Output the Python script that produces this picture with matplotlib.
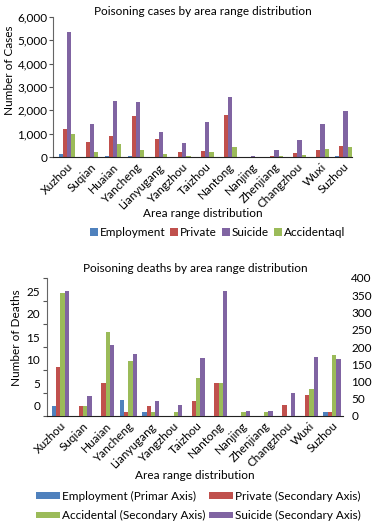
import matplotlib
matplotlib.use("Agg")
import matplotlib.pyplot as plt
import matplotlib.transforms as mtransforms
from matplotlib.ticker import FuncFormatter
import numpy as np

plt.rcParams['font.family'] = ['Lato', 'DejaVu Sans']

areas = ["Xuzhou", "Suqian", "Huaian", "Yancheng", "Lianyugang", "Yangzhou",
         "Taizhou", "Nantong", "Nanjing", "Zhenjiang", "Changzhou", "Wuxi", "Suzhou"]

# Poisoning cases
cases_employment = [150, 20, 50, 60, 20, 10, 20, 20, 10, 10, 10, 20, 60]
cases_private = [1215, 630, 886, 1745, 785, 200, 243, 1815, 20, 50, 157, 286, 486]
cases_suicide = [5370, 1430, 2415, 2345, 1057, 586, 1487, 2560, 60, 315, 714, 1430, 1987]
cases_accidental = [1000, 200, 570, 315, 143, 50, 200, 414, 20, 60, 100, 357, 414]

# Poisoning deaths
deaths_employment = [2.2, 0, 0, 3.5, 0.9, 0, 0, 0, 0, 0, 0, 0, 0.9]  # primary axis
deaths_private = [143, 30, 97, 12.5, 30, 0, 44, 97, 0, 0, 32, 61, 12.5]
deaths_accidental = [357, 30, 244, 160, 12.5, 12.5, 111, 97, 12.5, 12.5, 0, 79, 177]
deaths_suicide = [363, 58, 206, 180, 44, 32, 169, 363, 15, 15, 68, 172, 164]

C_BLUE = "#4F81BD"
C_RED = "#C0504D"
C_PURPLE = "#8064A2"
C_GREEN = "#9BBB59"

W, H = 379, 529
fig = plt.figure(figsize=(W / 100, H / 100), dpi=100)

def px_axes(x0, y0, x1, y1):
    return fig.add_axes([x0 / W, (H - y1) / H, (x1 - x0) / W, (y1 - y0) / H])

FS = 8.5
x = np.arange(len(areas))

# ---------------- Top chart ----------------
ax1 = px_axes(53, 17, 352, 157)
bw = 0.18
series1 = [(cases_employment, C_BLUE, "Employment"),
           (cases_private, C_RED, "Private"),
           (cases_suicide, C_PURPLE, "Suicide"),
           (cases_accidental, C_GREEN, "Accidentaql")]
for i, (vals, col, lab) in enumerate(series1):
    ax1.bar(x + (i - 1.5) * bw, vals, width=bw, color=col, label=lab)
ax1.set_xlim(-0.61, 12.37)
ax1.set_ylim(0, 6000)
ax1.set_yticks(range(0, 6001, 1000))
ax1.yaxis.set_major_formatter(FuncFormatter(lambda v, p: f"{int(v):,}"))
ax1.set_xticks(x)
ax1.set_xticklabels(areas, rotation=45, ha="right", rotation_mode="anchor", fontsize=FS)
ax1.tick_params(axis="x", length=0, pad=3)
ax1.tick_params(axis="y", length=3, direction="out", labelsize=FS, pad=1, color="#555555")
for s in ["top", "right"]:
    ax1.spines[s].set_visible(False)
ax1.spines["left"].set_color("#666666")
ax1.spines["bottom"].set_color("#222222")
ax1.set_title("Poisoning cases by area range distribution", fontsize=FS, pad=-1)
ax1.set_ylabel("Number of Cases", fontsize=FS)
ax1.yaxis.set_label_coords(-0.127, 0.62)
ax1.set_xlabel("Area range distribution", fontsize=FS, labelpad=-2)
ax1.legend(loc="upper center", bbox_to_anchor=(0.55, -0.46), ncol=4, frameon=False,
           fontsize=FS, handlelength=0.7, handleheight=0.7, handletextpad=0.15,
           columnspacing=0.4, borderpad=0)

# ---------------- Bottom chart ----------------
ax2 = px_axes(47, 278, 343, 416)
ax3 = ax2.twinx()
bw2 = 0.19
ax2.bar(x - 1.5 * bw2, deaths_employment, width=bw2, color=C_BLUE,
        label="Employment (Primar Axis)")
ax3.bar(x - 0.5 * bw2, deaths_private, width=bw2, color=C_RED,
        label="Private (Secondary Axis)")
ax3.bar(x + 0.5 * bw2, deaths_accidental, width=bw2, color=C_GREEN,
        label="Accidental (Secondary Axis)")
ax3.bar(x + 1.5 * bw2, deaths_suicide, width=bw2, color=C_PURPLE,
        label="Suicide (Secondary Axis)")
ax2.set_xlim(-0.59, 12.49)
ax2.set_ylim(0, 30)
ax2.set_yticks(range(0, 31, 5))
ax2.set_yticklabels(["0", "5", "10", "15", "20", "25", ""])
ax3.set_ylim(0, 400)
ax3.set_yticks(range(0, 401, 50))
ax2.set_xticks(x)
ax2.set_xticklabels(areas, rotation=45, ha="right", rotation_mode="anchor", fontsize=FS)
ax2.tick_params(axis="x", length=0, pad=3)
ax2.tick_params(axis="y", length=3, direction="out", labelsize=FS, pad=2, color="#555555")
ax3.tick_params(axis="y", length=0, labelsize=FS, pad=6)
offset = mtransforms.ScaledTranslation(0, 10 / 100, fig.dpi_scale_trans)
for lab in ax2.get_yticklabels():
    lab.set_transform(lab.get_transform() + offset)
for a in (ax2, ax3):
    a.spines["top"].set_visible(False)
    a.spines["right"].set_visible(False)
ax3.spines["left"].set_visible(False)
ax3.spines["bottom"].set_visible(False)
ax2.spines["left"].set_color("#666666")
ax2.spines["bottom"].set_color("#222222")
ax2.set_title("Poisoning deaths by area range distribution", fontsize=FS, pad=4)
ax2.set_ylabel("Number of Deaths", fontsize=FS)
ax2.yaxis.set_label_coords(-0.084, 0.565)
ax2.set_xlabel("Area range distribution", fontsize=FS, labelpad=0)

h2, l2 = ax2.get_legend_handles_labels()
h3, l3 = ax3.get_legend_handles_labels()
hs = [h2[0], h3[1], h3[0], h3[2]]
ls = [l2[0], l3[1], l3[0], l3[2]]
ax2.legend(hs, ls, loc="upper center", bbox_to_anchor=(0.512, -0.5), ncol=2,
           frameon=False, fontsize=FS, handlelength=2.0, handleheight=0.5,
           handletextpad=0.2, columnspacing=0.35, labelspacing=0.7, borderpad=0)

fig.savefig("out.png", dpi=100)
